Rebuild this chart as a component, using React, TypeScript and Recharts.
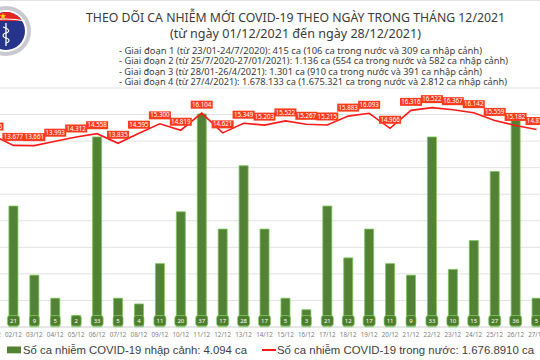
import React from 'react';
import { ComposedChart, Bar, Line, XAxis, YAxis, CartesianGrid, LabelList } from 'recharts';

const days = ['01/12','02/12','03/12','04/12','05/12','06/12','07/12','08/12','09/12','10/12','11/12','12/12','13/12','14/12','15/12','16/12','17/12','18/12','19/12','20/12','21/12','22/12','23/12','24/12','25/12','26/12','27/12'];
const importedCases = [8,21,9,5,2,33,5,4,11,20,37,17,28,17,5,3,21,12,17,11,9,33,10,15,27,36,5];
const domesticCases = [14456,13677,13661,13993,14312,14558,13835,14595,15300,14819,16104,14621,15349,15203,15522,15267,15215,15883,16093,14966,16316,16522,16367,16142,15559,15182,14872];
const lineTicks = [0,2000,4000,6000,8000,10000,12000,14000,16000];

const titleText = 'THEO DÕI CA NHIỄM MỚI COVID-19 THEO NGÀY TRONG THÁNG 12/2021';
const subtitleText = '(từ ngày 01/12/2021 đến ngày 28/12/2021)';
const phaseLines = [
  '- Giai đoạn 1 (từ 23/01-24/7/2020): 415 ca (106 ca trong nước và 309 ca nhập cảnh)',
  '- Giai đoạn 2 (từ 25/7/2020-27/01/2021): 1.136 ca (554 ca trong nước và 582 ca nhập cảnh)',
  '- Giai đoạn 3 (từ 28/01-26/4/2021): 1.301 ca (910 ca trong nước và 391 ca nhập cảnh)',
  '- Giai đoạn 4 (từ 27/4/2021): 1.678.133 ca (1.675.321 ca trong nước và 2.812 ca nhập cảnh)',
];
const phaseLengths = [363, 389, 363, 388];
const legendImported = 'Số ca nhiễm COVID-19 nhập cảnh: 4.094 ca';
const legendDomestic = 'Số ca nhiễm COVID-19 trong nước: 1.676.8910 ca';

const data = days.map((d, i) => ({ day: d, imported: importedCases[i], domestic: domesticCases[i] }));

const fmt = (v: number) => String(v).replace(/\B(?=(\d{3})+(?!\d))/g, '.');

const FONT = '"Noto Sans", "Open Sans", sans-serif';
const ARIAL = '"Liberation Sans", Arial, sans-serif';

const LineLabel = (props: any) => {
  const { x, y, value } = props;
  if (x == null || y == null) return null;
  const w = 22, h = 8;
  return (
    <g>
      <rect x={x - w / 2} y={y - 12.5} width={w} height={h} fill="#ff3b1d" />
      <text x={x} y={y - 6.4} textAnchor="middle" fontSize={6.2} fill="#ffffff" fontFamily={FONT}>{fmt(value)}</text>
    </g>
  );
};

const BarLabel = (props: any) => {
  const { x, y, width, height, value } = props;
  if (x == null) return null;
  const cx = x + width / 2;
  const bottom = y + height;
  const s = String(value);
  const w = Math.max(10, s.length * 3.8 + 4.5);
  return (
    <g>
      <rect x={cx - w / 2} y={bottom - 11.5} width={w} height={10.5} rx={2.5} fill="#4e7d2e" stroke="#86d36a" strokeWidth={0.7} />
      <text x={cx} y={bottom - 4.1} textAnchor="middle" fontSize={6} fill="#ffffff" fontFamily={FONT}>{s}</text>
    </g>
  );
};

const DayTick = (props: any) => {
  const { x, y, payload } = props;
  return (
    <text x={x} y={y} dy="0.71em" textAnchor="middle" fontSize={6.3} fill="#808080" fontFamily={FONT}>{payload.value}</text>
  );
};

const Logo = () => (
  <g>
    <defs>
      <clipPath id="logoClip"><circle cx={6} cy={31} r={19} /></clipPath>
    </defs>
    <circle cx={6} cy={31} r={23} fill="none" stroke="#c9c9d2" strokeWidth={4} />
    <circle cx={6} cy={31} r={19} fill="#27348b" />
    <rect x={-15} y={10} width={42} height={11} fill="#e52521" clipPath="url(#logoClip)" />
    <path d="M-13,21 Q6,17 25,21" stroke="#ffffff" strokeWidth={1.2} fill="none" />
    <polygon points="3,13 3.8,15.3 6.2,15.3 4.3,16.7 5,19 3,17.6 1,19 1.7,16.7 -0.2,15.3 2.2,15.3" fill="#ffde00" />
    <line x1={6} y1={23} x2={6} y2={46} stroke="#ffffff" strokeWidth={1.3} />
    <path d="M3,27 C10,29 10,32 6,33 C2,34 2,37 6,38 C10,39 10,42 6,43" stroke="#ffffff" strokeWidth={1.1} fill="none" />
  </g>
);

export default function App() {
  return (
    <div style={{ position: 'fixed', left: 0, top: 0, width: 540, height: 360, overflow: 'hidden', background: '#ffffff' }}>
      <div style={{ position: 'absolute', left: -18, top: 0 }}>
        <ComposedChart width={565} height={360} data={data} margin={{ top: 88, right: 0, bottom: 13, left: 0 }} barCategoryGap={0}>
          <CartesianGrid yAxisId="left" vertical={false} stroke="#e3e3e3" strokeWidth={1} />
          <XAxis dataKey="day" height={20} tickLine={false} tickSize={0} tickMargin={6} axisLine={{ stroke: '#dcdcdc' }} tick={<DayTick />} interval={0} />
          <YAxis yAxisId="left" hide domain={[0, 18000]} ticks={lineTicks} />
          <YAxis yAxisId="right" hide orientation="right" domain={[0, 41.5]} />
          <Bar yAxisId="right" dataKey="imported" barSize={9} fill="#538135" stroke="#7cc65c" strokeWidth={0.8} isAnimationActive={false}>
            <LabelList dataKey="imported" content={<BarLabel />} />
          </Bar>
          <Line yAxisId="left" type="linear" dataKey="domestic" stroke="#ff1a1a" strokeWidth={1.6} dot={false} isAnimationActive={false}>
            <LabelList dataKey="domestic" content={<LineLabel />} />
          </Line>
        </ComposedChart>
      </div>
      <svg width={540} height={360} style={{ position: 'absolute', left: 0, top: 0, pointerEvents: 'none' }}>
        <line x1={0} y1={0.5} x2={540} y2={0.5} stroke="#e2e2e2" strokeWidth={1} />
        <Logo />
        <text x={86} y={21.7} fontSize={11.7} fill="#3b3b3b" fontFamily={FONT} textLength={419} lengthAdjust="spacingAndGlyphs">{titleText}</text>
        <text x={170} y={38} fontSize={11.8} fill="#3b3b3b" fontFamily={FONT} textLength={251} lengthAdjust="spacingAndGlyphs">{subtitleText}</text>
        {phaseLines.map((t, i) => (
          <text key={i} x={119} y={53.8 + i * 10.55} fontSize={8.4} fill="#3b3b3b" fontFamily={FONT} textLength={phaseLengths[i]} lengthAdjust="spacingAndGlyphs">{t}</text>
        ))}
        <rect x={7} y={346.5} width={14} height={6.8} fill="#548235" />
        <text x={23} y={354} fontSize={10.4} fill="#404040" fontFamily={ARIAL} textLength={224} lengthAdjust="spacingAndGlyphs">{legendImported}</text>
        <line x1={262} y1={350} x2={276} y2={350} stroke="#ff1a1a" strokeWidth={2} />
        <text x={277} y={354} fontSize={10.4} fill="#404040" fontFamily={ARIAL} textLength={257} lengthAdjust="spacingAndGlyphs">{legendDomestic}</text>
      </svg>
    </div>
  );
}
